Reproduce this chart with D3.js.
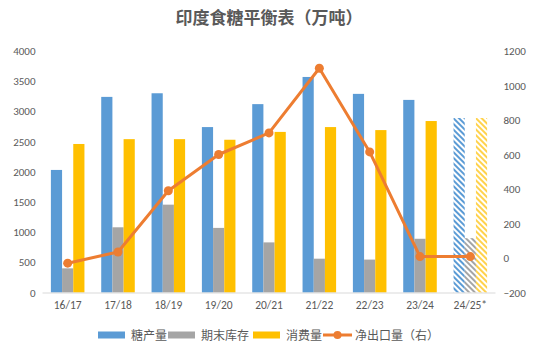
<!DOCTYPE html>
<html><head><meta charset="utf-8">
<script src="https://cdn.jsdelivr.net/npm/d3@7"></script>
<style>body{margin:0;background:#fff}svg{display:block;font-family:"Microsoft YaHei","Noto Sans CJK SC",sans-serif}</style>
</head><body><svg id="c" width="538" height="356"></svg>
<script>
const categories = ["16/17","17/18","18/19","19/20","20/21","21/22","22/23","23/24","24/25*"];
const forecastCategories = ["24/25*"];
const production = [2030,3240,3300,2740,3120,3570,3290,3190,2890];
const endingStock = [400,1080,1455,1070,830,560,545,890,900];
const consumption = [2460,2540,2540,2530,2660,2740,2690,2840,2890];
const netExport = [-30,35,390,600,725,1100,615,8,8];
const seriesNames = ["糖产量","期末库存","消费量"];
const lineName = "净出口量（右）";
const leftTicks = [0,500,1000,1500,2000,2500,3000,3500,4000];
const rightTicks = [-200,0,200,400,600,800,1000,1200];
const colors = ["#5B9BD5","#A5A5A5","#FFC000"];
const lineColor = "#ED7D31";
const title = "印度食糖平衡表（万吨）";

const svg = d3.select("#c");
const W=538,H=356;
const m={l:42.5,r:495.5,t:51,b:292.5};
const x = d3.scaleBand().domain(categories).range([m.l,m.r]).paddingInner(1/3).paddingOuter(1/6);
const xs = d3.scaleBand().domain(seriesNames).range([0,x.bandwidth()]);
const yL = d3.scaleLinear().domain([0,4000]).range([m.b,m.t]);
const yR = d3.scaleLinear().domain([-200,1200]).range([m.b,m.t]);

const defs = svg.append("defs");
colors.forEach((c,i)=>{
  const p = defs.append("pattern").attr("id","hatch"+i).attr("patternUnits","userSpaceOnUse")
    .attr("width",4).attr("height",4).attr("patternTransform","rotate(-45)");
  p.append("rect").attr("width",4).attr("height",4).attr("fill","#fff");
  p.append("rect").attr("x",0).attr("width",2).attr("height",4).attr("fill",c).attr("opacity",i==2?0.7:1);
});

const txt="#595959";
svg.append("text").attr("x",W/2).attr("y",24).attr("text-anchor","middle")
  .attr("font-size",17).attr("font-weight","bold").attr("fill",txt).text(title);

const data=[production,endingStock,consumption];
const g = svg.append("g");
categories.forEach((cat,i)=>{
  const fc = forecastCategories.includes(cat);
  seriesNames.forEach((s,j)=>{
    const v=data[j][i];
    g.append("rect").attr("x",x(cat)+xs(s)).attr("width",xs.bandwidth())
      .attr("y",yL(v)).attr("height",yL(0)-yL(v))
      .attr("fill",fc?`url(#hatch${j})`:colors[j]);
  });
});

// axis line
svg.append("line").attr("x1",m.l).attr("x2",m.r).attr("y1",m.b+0.5).attr("y2",m.b+0.5)
  .attr("stroke","#d9d9d9").attr("stroke-width",1);

const fmt = d3.format("d");
const la = svg.append("g").attr("transform",`translate(${m.l},0)`)
  .call(d3.axisLeft(yL).tickValues(leftTicks).tickFormat(fmt).tickSize(0).tickPadding(7));
la.select(".domain").remove();
la.selectAll("text").attr("fill",txt).attr("font-size",11).attr("font-family","Calibri,Carlito,'Liberation Sans',sans-serif");
const ra = svg.append("g").attr("transform",`translate(${m.r},0)`)
  .call(d3.axisRight(yR).tickValues(rightTicks).tickFormat(fmt).tickSize(0).tickPadding(8));
ra.select(".domain").remove();
ra.selectAll("text").attr("fill",txt).attr("font-size",11).attr("font-family","Calibri,Carlito,'Liberation Sans',sans-serif");
const xa = svg.append("g").attr("transform",`translate(0,${m.b})`)
  .call(d3.axisBottom(x).tickSize(0).tickPadding(8));
xa.select(".domain").remove();
xa.selectAll("text").attr("fill",txt).attr("font-size",11.5).attr("font-family","Calibri,Carlito,'Liberation Sans',sans-serif");

const cx = c=>x(c)+x.bandwidth()/2;
const line = d3.line().x((d,i)=>cx(categories[i])).y(d=>yR(d));
svg.append("path").datum(netExport).attr("d",line).attr("fill","none")
  .attr("stroke",lineColor).attr("stroke-width",3).attr("stroke-linejoin","round");
svg.selectAll("circle.pt").data(netExport).join("circle").attr("class","pt")
  .attr("cx",(d,i)=>cx(categories[i])).attr("cy",d=>yR(d)).attr("r",4.5).attr("fill",lineColor);

const lg = svg.append("g").attr("font-size",12).attr("fill",txt);
const ly=335;
const items=[{x:98,t:seriesNames[0],c:colors[0]},{x:168,t:seriesNames[1],c:colors[1]},{x:253,t:seriesNames[2],c:colors[2]}];
items.forEach(it=>{
  lg.append("rect").attr("x",it.x).attr("y",ly-3.5).attr("width",27).attr("height",7).attr("fill",it.c);
  lg.append("text").attr("x",it.x+33).attr("y",ly+4.5).attr("fill",txt).text(it.t);
});
lg.append("line").attr("x1",323).attr("x2",352).attr("y1",ly).attr("y2",ly).attr("stroke",lineColor).attr("stroke-width",3);
lg.append("circle").attr("cx",337.5).attr("cy",ly).attr("r",4).attr("fill",lineColor);
lg.append("text").attr("x",355).attr("y",ly+4.5).attr("fill",txt).text(lineName);
</script></body></html>
